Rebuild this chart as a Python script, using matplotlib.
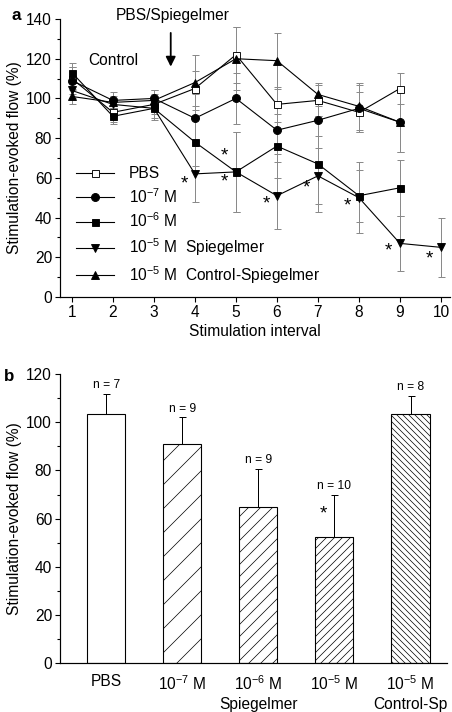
import matplotlib
matplotlib.use("Agg")
import matplotlib.pyplot as plt
from matplotlib.ticker import MultipleLocator

plt.rcParams["font.family"] = ["Liberation Sans", "DejaVu Sans"]
plt.rcParams["mathtext.fontset"] = "custom"
plt.rcParams["mathtext.rm"] = "Liberation Sans"
plt.rcParams["mathtext.it"] = "Liberation Sans:italic"
plt.rcParams["mathtext.bf"] = "Liberation Sans:bold"
plt.rcParams["hatch.linewidth"] = 0.7

# panel a: time course per stimulation interval
intervals = [1, 2, 3, 4, 5, 6, 7, 8, 9, 10]
pbs = [110, 93, 97, 105, 122, 97, 99, 93, 105]
pbs_err = [6, 5, 5, 9, 14, 9, 8, 10, 8]
m7 = [109, 99, 100, 90, 100, 84, 89, 95, 88]
m7_err = [7, 4, 4, 12, 13, 12, 8, 12, 15]
m6 = [113, 91, 95, 78, 63, 76, 67, 51, 55]
m6_err = [5, 4, 6, 12, 20, 16, 24, 13, 14]
m5 = [104, 97, 95, 62, 63, 51, 61, 50, 27, 25]
m5_err = [4, 3, 5, 14, 20, 17, 14, 18, 14, 15]
ctrl = [101, 98, 99, 108, 120, 119, 102, 96, 88]
ctrl_err = [4, 3, 5, 14, 16, 14, 6, 12, 15]

# significance stars (x, y)
star_x = [3.75, 4.73, 4.73, 5.75, 6.72, 7.72, 8.71, 9.73]
star_y = [57, 71, 58, 47, 55, 46, 23, 19]

# panel b: mean effect
groups = ["PBS", "$10^{-7}$ M", "$10^{-6}$ M\nSpiegelmer", "$10^{-5}$ M",
          "$10^{-5}$ M\nControl-Sp"]
means = [103.5, 91, 65, 52.5, 103.5]
sems = [8.2, 11, 15.5, 17.2, 7.5]
n_vals = [7, 9, 9, 10, 8]
hatches = ["", "/", "//", "///", "\\\\\\\\"]

FS = 15.5
fig = plt.figure(figsize=(452 / 72, 712 / 72), dpi=72)
ax = fig.add_axes([60 / 452, 1 - 297 / 712, 390 / 452, 278 / 712])
bx = fig.add_axes([60 / 452, 1 - 663.3 / 712, 387 / 452, 289.3 / 712])

series = [
    (pbs, pbs_err, "s", "white", 7, "PBS"),
    (m7, m7_err, "o", "black", 8, "$10^{-7}$ M"),
    (m6, m6_err, "s", "black", 7, "$10^{-6}$ M"),
    (m5, m5_err, "v", "black", 8.5, "$10^{-5}$ M  Spiegelmer"),
    (ctrl, ctrl_err, "^", "black", 8.5, "$10^{-5}$ M  Control-Spiegelmer"),
]
for vals, err, mk, fc, ms, lab in series:
    xs = intervals[:len(vals)]
    ax.errorbar(xs, vals, yerr=err, fmt="none", ecolor="#8a8a8a",
                elinewidth=1, capsize=3.5, capthick=1, zorder=1)
for vals, err, mk, fc, ms, lab in series:
    xs = intervals[:len(vals)]
    ax.plot(xs, vals, color="black", lw=1.1, marker=mk, mfc=fc, mec="black",
            mew=0.9, ms=ms, label=lab, zorder=3)

for sx, sy in zip(star_x, star_y):
    ax.text(sx, sy, "*", fontsize=19, ha="center", va="center")

ax.set_xlim(0.71, 10.22)
ax.set_ylim(0, 140)
ax.set_xticks(intervals)
ax.yaxis.set_major_locator(MultipleLocator(20))
ax.yaxis.set_minor_locator(MultipleLocator(10))
ax.spines[["top", "right"]].set_visible(False)
ax.spines[["left", "bottom"]].set_linewidth(1.2)
ax.tick_params(labelsize=FS, length=5, width=1.1, pad=3)
ax.tick_params(which="minor", length=3, width=1.1)
ax.set_xlabel("Stimulation interval", fontsize=FS, labelpad=4)
ax.set_ylabel("Stimulation-evoked flow (%)", fontsize=FS, labelpad=4)

ax.text(3.46, 142, "PBS/Spiegelmer", fontsize=FS, ha="center", va="center",
        clip_on=False)
ax.annotate("", xy=(3.41, 115), xytext=(3.41, 134),
            arrowprops=dict(arrowstyle="-|>", color="black", lw=1.8,
                            mutation_scale=20))
ax.text(2.0, 119, "Control", fontsize=FS, ha="center", va="center")
ax.text(-0.113, 1.014, "a", transform=ax.transAxes, fontsize=17,
        fontweight="bold", ha="center", va="center")

ax.legend(loc="upper left", bbox_to_anchor=(0.01, 0.515), frameon=False,
          fontsize=FS, handlelength=2.4, handletextpad=1.0,
          labelspacing=0.38, borderaxespad=0.4)

# panel b
pos = list(range(len(groups)))
bars = bx.bar(pos, means, width=0.5, color="white", edgecolor="black",
              linewidth=1.1, zorder=2)
for b, h in zip(bars, hatches):
    b.set_hatch(h)
bx.errorbar(pos, means, yerr=[[0] * len(sems), sems], fmt="none",
            ecolor="black", elinewidth=1, capsize=3.5, capthick=1, zorder=1)
for p, m, s, n in zip(pos, means, sems, n_vals):
    bx.text(p, m + s + 1.2, f"n = {n}", fontsize=12, ha="center",
            va="bottom")
bx.text(2.85, 61.8, "*", fontsize=19, ha="center", va="center")

bx.set_xlim(-0.61, 4.48)
bx.set_ylim(0, 120)
bx.set_xticks(pos)
bx.set_xticklabels(groups, linespacing=1.35)
bx.yaxis.set_major_locator(MultipleLocator(20))
bx.yaxis.set_minor_locator(MultipleLocator(10))
bx.spines[["top", "right"]].set_visible(False)
bx.spines[["left", "bottom"]].set_linewidth(1.2)
bx.tick_params(axis="y", labelsize=FS, length=5, width=1.1, pad=3)
bx.tick_params(axis="y", which="minor", length=3, width=1.1)
bx.tick_params(axis="x", labelsize=FS, length=0, pad=11)
bx.set_ylabel("Stimulation-evoked flow (%)", fontsize=FS, labelpad=4)
bx.text(-0.132, 0.99, "b", transform=bx.transAxes, fontsize=17,
        fontweight="bold", ha="center", va="center")

fig.savefig("out.png", dpi=72)
